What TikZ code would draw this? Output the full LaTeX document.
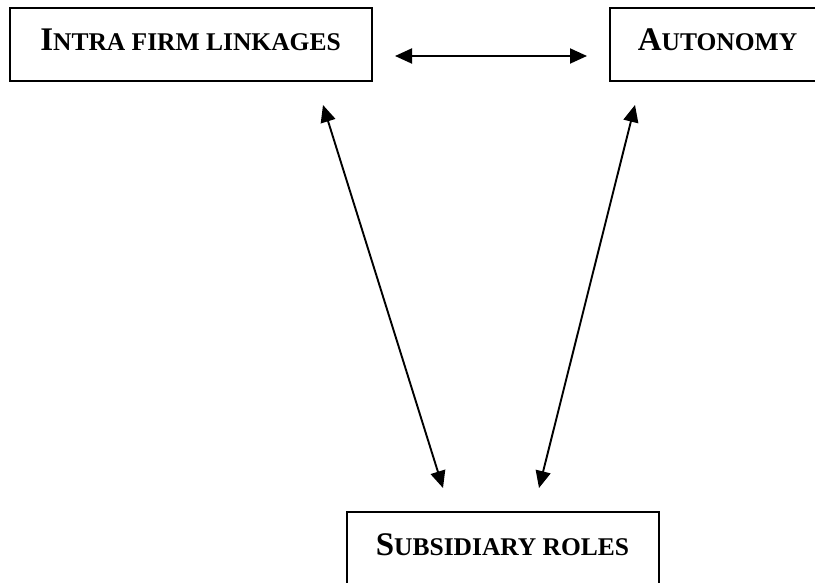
\documentclass[tikz,border=0pt]{standalone}
\usepackage{fontspec}
\setmainfont{Liberation Serif}
\usetikzlibrary{arrows.meta}
\newcommand\mysc[2]{{\fontsize{33}{38}\selectfont #1}{\fontsize{25.5}{30}\selectfont #2}}
\begin{document}
\begin{tikzpicture}[x=1pt,y=1pt,
  boxstyle/.style={draw=black,line width=2pt,inner sep=0pt},
  labelstyle/.style={anchor=base,inner sep=0pt,font=\bfseries},
  linkstyle/.style={line width=1.9pt,{Triangle[length=17pt,width=15pt]}-{Triangle[length=17pt,width=15pt]}}]
\useasboundingbox (0,0) rectangle (815,582);
% boxes
\node[boxstyle,minimum width=362pt,minimum height=73pt] (ifl) at (191,537.5) {};
\node[boxstyle,minimum width=215pt,minimum height=73pt] (aut) at (717.5,537.5) {};
\node[boxstyle,minimum width=312pt,minimum height=73pt] (sub) at (503,33.5) {};
% labels
\node[labelstyle] (iflt) at (190.5,531) {\mysc{I}{NTRA FIRM LINKAGES}};
\node[labelstyle] (autt) at (717.5,531) {\mysc{A}{UTONOMY}};
\node[labelstyle] (subt) at (502.5,27) {\mysc{S}{UBSIDIARY ROLES}};
% connector ends
\coordinate (h1) at (395,526);
\coordinate (h2) at (587,526);
\coordinate (l1) at (323,477);
\coordinate (l2) at (443,94);
\coordinate (r1) at (635,477);
\coordinate (r2) at (539,94);
\draw[linkstyle] (h1) -- (h2);
\draw[linkstyle] (l1) -- (l2);
\draw[linkstyle] (r1) -- (r2);
\end{tikzpicture}
\end{document}
